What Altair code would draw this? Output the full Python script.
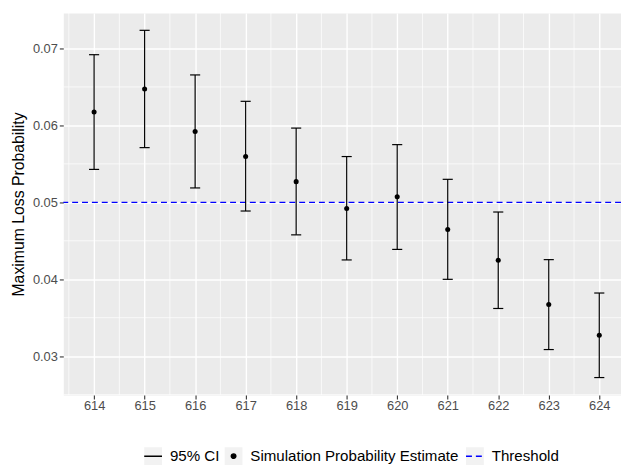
import altair as alt
import pandas as pd
import numpy as np

# ---- data ----
sizes = [614, 615, 616, 617, 618, 619, 620, 621, 622, 623, 624]
estimate = [0.06175, 0.06472, 0.05922, 0.05595, 0.05269, 0.04921,
            0.05071, 0.04646, 0.04246, 0.03671, 0.03272]
lower = [0.05428, 0.05711, 0.05187, 0.04887, 0.04577, 0.04251,
         0.04388, 0.03999, 0.03620, 0.03086, 0.02722]
upper = [0.06919, 0.07236, 0.06656, 0.06313, 0.05965, 0.05595,
         0.05750, 0.05299, 0.04874, 0.04255, 0.03821]
threshold = [0.05]
series = ["95% CI", "Simulation Probability Estimate", "Threshold"]

x_ticks = [614, 615, 616, 617, 618, 619, 620, 621, 622, 623, 624]
x_minor = [613.5, 614.5, 615.5, 616.5, 617.5, 618.5, 619.5, 620.5,
           621.5, 622.5, 623.5, 624.5]
y_ticks = [0.03, 0.04, 0.05, 0.06, 0.07]
y_minor = [0.025, 0.035, 0.045, 0.055, 0.065]

FONT = "Liberation Sans"

df = pd.DataFrame({"n": sizes, "est": estimate, "lo": lower, "hi": upper})

xscale = alt.Scale(domain=[613.39, 624.43], nice=False, zero=False)
yscale = alt.Scale(domain=[0.02496, 0.07462], nice=False, zero=False)

xaxis = alt.Axis(values=x_ticks, title=None, format="d", grid=True,
                 gridColor="white", gridWidth=1.4, domain=False,
                 tickColor="#333333", tickSize=4, tickWidth=1.1,
                 labelColor="#4D4D4D", labelFontSize=13, labelPadding=1,
                 labelFont=FONT)
yaxis = alt.Axis(values=y_ticks, title="Maximum Loss Probability",
                 format=".2f", grid=True, gridColor="white", gridWidth=1.4,
                 domain=False, tickColor="#333333", tickSize=4, tickWidth=1.1,
                 labelColor="#4D4D4D", labelFontSize=13, labelPadding=2,
                 labelFont=FONT, titleFont=FONT, titleFontSize=16,
                 titleFontWeight="normal", titleColor="black", titlePadding=6)

minor_x = alt.Chart(pd.DataFrame({"v": x_minor})).mark_rule(
    color="white", strokeWidth=0.7, clip=True
).encode(x=alt.X("v:Q", scale=xscale, axis=xaxis))

minor_y = alt.Chart(pd.DataFrame({"v": y_minor})).mark_rule(
    color="white", strokeWidth=0.7, clip=True
).encode(y=alt.Y("v:Q", scale=yscale, axis=yaxis))

thr = alt.Chart(pd.DataFrame({"t": threshold})).mark_rule(
    color="#0000FF", strokeWidth=1.2, strokeDash=[6, 4]
).encode(y=alt.Y("t:Q", scale=yscale, axis=yaxis))

base = alt.Chart(df)

bars = base.mark_rule(color="black", strokeWidth=1.2).encode(
    x=alt.X("n:Q", scale=xscale, axis=xaxis),
    y=alt.Y("lo:Q", scale=yscale, axis=yaxis),
    y2="hi:Q",
)

caps = base.transform_fold(["lo", "hi"], as_=["k", "val"]).transform_calculate(
    xl="datum.n - 0.1", xr="datum.n + 0.1"
).mark_rule(color="black", strokeWidth=1.2).encode(
    x=alt.X("xl:Q", scale=xscale, axis=xaxis),
    x2="xr:Q",
    y=alt.Y("val:Q", scale=yscale, axis=yaxis),
)

pts = base.mark_circle(color="black", size=26, opacity=1).encode(
    x=alt.X("n:Q", scale=xscale, axis=xaxis),
    y=alt.Y("est:Q", scale=yscale, axis=yaxis),
)

# ---- legend: one single-entry legend per key, with a grey key box under each ----
circle_path = "M0,-0.25A0.25,0.25 0 1,1 0,0.25A0.25,0.25 0 1,1 0,-0.25Z"
key_shapes = ["stroke", circle_path, "stroke"]
key_colors = ["black", "black", "#0000FF"]
key_dash = [[1, 0], [1, 0], [6, 4]]
key_x = [81, 162.5, 407]       # legend layout offsets (px from plot left)
KEY_Y = 439

legend_layers = []
for i, name in enumerate(series):
    common = dict(title=None, orient="none", legendX=key_x[i], legendY=KEY_Y,
                  direction="horizontal", labelLimit=0, labelFont=FONT,
                  labelFontSize=15.3, symbolStrokeWidth=1.5, symbolSize=324,
                  symbolOpacity=1, labelOffset=7, padding=0)
    d = pd.DataFrame({f"s{i}": [name], f"b{i}": [name],
                      "lx": [np.nan], "ly": [np.nan]})
    bg_leg = alt.Legend(labelExpr="''", symbolType="square",
                        symbolStrokeColor="transparent",
                        symbolFillColor="#F2F2F2", zindex=1, **common)
    fg_leg = alt.Legend(labelColor="black", zindex=2, **common)
    bg = alt.Chart(d).mark_square(filled=True, size=324, opacity=1).encode(
        x=alt.X("lx:Q", scale=xscale, axis=xaxis),
        y=alt.Y("ly:Q", scale=yscale, axis=yaxis),
        color=alt.Color(f"b{i}:N", scale=alt.Scale(domain=[name], range=["#F2F2F2"]), legend=bg_leg),
    )
    fg = alt.Chart(d).mark_point(filled=True, size=324, opacity=1).encode(
        x=alt.X("lx:Q", scale=xscale, axis=xaxis),
        y=alt.Y("ly:Q", scale=yscale, axis=yaxis),
        fill=alt.Fill(f"s{i}:N", scale=alt.Scale(domain=[name], range=[key_colors[i]]), legend=fg_leg),
        stroke=alt.Stroke(f"s{i}:N", scale=alt.Scale(domain=[name], range=[key_colors[i]]), legend=fg_leg),
        shape=alt.Shape(f"s{i}:N", scale=alt.Scale(domain=[name], range=[key_shapes[i]]), legend=fg_leg),
        strokeDash=alt.StrokeDash(f"s{i}:N", scale=alt.Scale(domain=[name], range=[key_dash[i]]), legend=fg_leg),
    )
    legend_layers += [bg, fg]

chart = alt.layer(minor_x, minor_y, thr, bars, caps, pts, *legend_layers).resolve_scale(
    color="independent", fill="independent", stroke="independent",
    shape="independent", strokeDash="independent",
).properties(
    width=565, height=387,
    padding={"left": 56, "top": 2, "right": 0, "bottom": 70},
    autosize=alt.AutoSizeParams(type="none"),
).configure(font=FONT).configure_view(fill="#EBEBEB", stroke="transparent")

chart.save("out.html", embed_options={"renderer": "svg", "actions": False})
